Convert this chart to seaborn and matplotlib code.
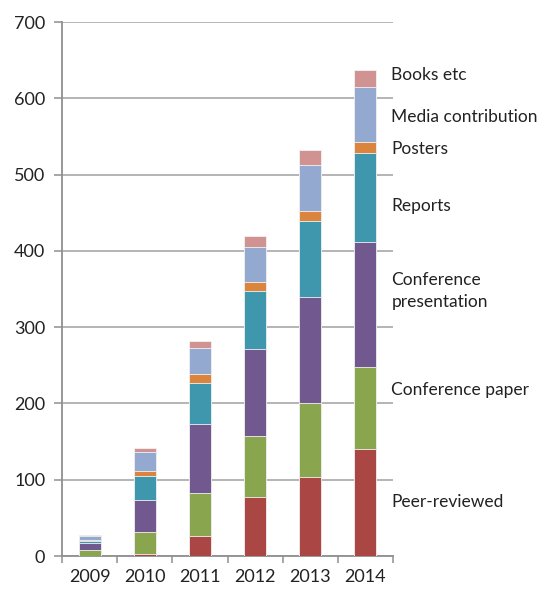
import seaborn as sns
from matplotlib import pyplot as plt
import pandas as pd
import numpy as np

years = ['2009', '2010', '2011', '2012', '2013', '2014']
categories = ['Peer-reviewed', 'Conference paper', 'Conference presentation',
              'Reports', 'Posters', 'Media contribution', 'Books etc']
peer_reviewed = [0, 3, 26, 78, 104, 140]
conference_paper = [8, 29, 57, 79, 97, 108]
conference_presentation = [9, 42, 90, 114, 138, 163]
reports = [3, 31, 54, 76, 100, 117]
posters = [0.5, 6, 11, 12, 13, 15]
media_contribution = [6, 26, 35, 46, 61, 72]
books_etc = [1.5, 5, 9, 14, 19, 22]
label_text = ['Peer-reviewed', 'Conference paper', 'Conference\npresentation',
              'Reports', 'Posters', 'Media contribution', 'Books etc']
label_y = [71, 217, 347, 459, 533, 575, 630]

colors = ['#aa4643', '#89a54e', '#71588f', '#3f97ae', '#db843d', '#93a9cf', '#d19392']

sns.set_theme(style='white')
plt.rcParams['font.family'] = ['Lato', 'DejaVu Sans']

df = pd.DataFrame({'year': years,
                   'Peer-reviewed': peer_reviewed,
                   'Conference paper': conference_paper,
                   'Conference presentation': conference_presentation,
                   'Reports': reports,
                   'Posters': posters,
                   'Media contribution': media_contribution,
                   'Books etc': books_etc})
cum = df[categories].cumsum(axis=1)

fig = plt.figure(figsize=(5.4, 5.89), dpi=100)
ax = fig.add_axes([0.1148, 0.056, 0.613, 0.9066])

# draw cumulative totals top-down so lower layers sit on top
for cat, col in reversed(list(zip(categories, colors))):
    sns.barplot(x=df['year'], y=cum[cat], color=col, width=0.4, ax=ax,
                edgecolor='#f2f2f2', linewidth=0.6, saturation=1, zorder=3)

ax.set_ylim(0, 700)
ax.set_xlim(-0.5, 5.5)
ax.set_yticks(np.arange(0, 701, 100))
ax.yaxis.grid(True, color='#a0a0a0', linewidth=1.1, zorder=0)
ax.set_axisbelow(True)
ax.set_xlabel('')
ax.set_ylabel('')

for s in ['top', 'right']:
    ax.spines[s].set_visible(False)
for s in ['left', 'bottom']:
    ax.spines[s].set_color('#909090')
    ax.spines[s].set_linewidth(1.3)

ax.set_xticks(np.arange(6))
ax.set_xticklabels(years)
ax.set_xticks(np.arange(-0.5, 6, 1), minor=True)
ax.tick_params(axis='x', which='major', length=0, pad=9, labelsize=13, colors='#222222')
ax.tick_params(axis='x', which='minor', length=5, width=1.1, color='#909090', direction='out', bottom=True)
ax.tick_params(axis='y', length=6, width=1.1, color='#909090', direction='out', left=True,
               labelsize=13, labelcolor='#222222', pad=6)

for txt, yv in zip(label_text, label_y):
    ax.text(0.995, yv, txt, transform=ax.get_yaxis_transform(), ha='left', va='center',
            fontsize=12.5, color='#222222', linespacing=1.45)

plt.savefig('out.png', dpi=100)
